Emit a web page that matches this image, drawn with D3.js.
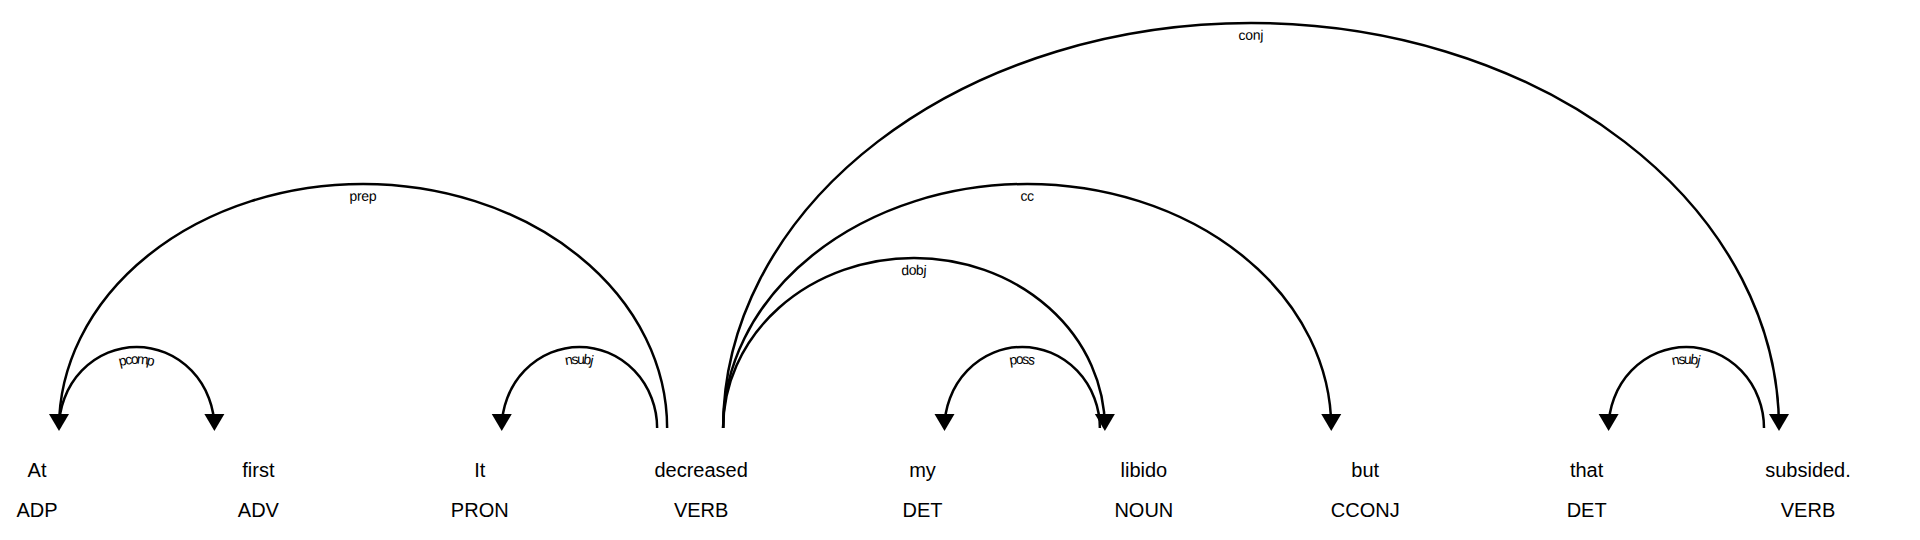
<!DOCTYPE html>
<html>
<head>
<meta charset="utf-8">
<script src="https://cdn.jsdelivr.net/npm/d3@7"></script>
<style>
body { margin: 0; background: #fff; }
text { font-family: "Liberation Sans", Arial, sans-serif; fill: #000; }
</style>
</head>
<body>
<svg id="dep" width="1920" height="540"></svg>
<script>
var words = ["At", "first", "It", "decreased", "my", "libido", "but", "that", "subsided."];
var tags = ["ADP", "ADV", "PRON", "VERB", "DET", "NOUN", "CCONJ", "DET", "VERB"];
// arcs: head -> dependent, level decides height
var arcStart = [0, 0, 2, 3, 4, 3, 3, 7];
var arcEnd = [1, 3, 3, 5, 5, 6, 8, 8];
var arcLabel = ["pcomp", "prep", "nsubj", "dobj", "poss", "cc", "conj", "nsubj"];
var arcDir = ["right", "left", "left", "right", "left", "right", "right", "left"];
var arcLevel = [1, 3, 1, 2, 1, 3, 4, 1];
var levelHeight = [0, 81, 170, 244, 405];

var svg = d3.select("#dep");
var x = d3.scalePoint().domain(d3.range(words.length)).range([37, 1808]);
var baseY = 428;

var g = svg.append("g");

words.forEach(function (w, i) {
    g.append("text").attr("x", x(i)).attr("y", 477)
        .attr("text-anchor", "middle").style("font-size", "20px").text(w);
    g.append("text").attr("x", x(i)).attr("y", 517)
        .attr("text-anchor", "middle").style("font-size", "20px").text(tags[i]);
});

arcStart.forEach(function (s, k) {
    var lvl = arcLevel[k];
    var x1 = x(s) + 22;
    var x2 = x(arcEnd[k]) - 44 + (lvl - 1) * 5;
    var h = levelHeight[lvl];
    var rx = (x2 - x1) / 2;
    var d = "M" + x1 + "," + baseY + " A" + rx + "," + h + " 0 0 1 " + x2 + "," + baseY;
    var id = "arc" + k;
    g.append("path").attr("id", id).attr("d", d)
        .attr("fill", "none").attr("stroke", "#000").attr("stroke-width", 2.5);
    g.append("text").attr("dy", "1.2em").style("font-size", "14px")
        .append("textPath").attr("href", "#" + id)
        .attr("startOffset", "50%").attr("text-anchor", "middle")
        .text(arcLabel[k]);
    var ax = arcDir[k] == "left" ? x1 : x2;
    g.append("path")
        .attr("d", "M" + (ax - 10) + "," + (baseY - 14) + " L" + (ax + 10) + "," + (baseY - 14) + " L" + ax + "," + (baseY + 3) + " Z")
        .attr("fill", "#000");
});
</script>
</body>
</html>
